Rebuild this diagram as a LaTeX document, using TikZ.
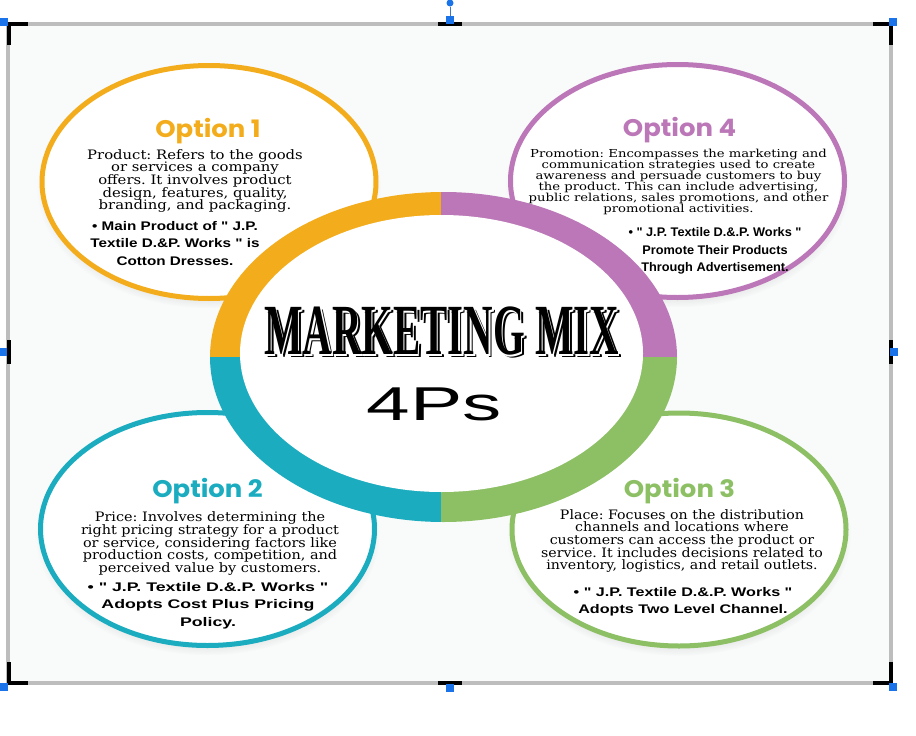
\documentclass[tikz,border=0pt]{standalone}
\usepackage{fontspec}
\usepackage{graphicx}
\usetikzlibrary{shapes.geometric,shadows}
\newfontfamily\titlefont{Poppins}
\newfontfamily\bodyfont{DejaVu Serif}
\newfontfamily\notefont{Liberation Sans}
\newfontfamily\mixfont{Liberation Serif}
\definecolor{optorange}{HTML}{F3AD1C}
\definecolor{optpurple}{HTML}{BB77B7}
\definecolor{optteal}{HTML}{1BACC0}
\definecolor{optgreen}{HTML}{8DC065}
\definecolor{handleblue}{HTML}{1A73E8}
\definecolor{framegray}{HTML}{BDBDBD}
\definecolor{paper}{HTML}{F9FAFA}
\pgfdeclareradialshading{softfill}{\pgfpoint{0bp}{0bp}}{color(0bp)=(white); color(39bp)=(white); color(50bp)=(black!9)}
\newcommand{\bodysize}{\bodyfont\fontsize{13}{12.6}\selectfont}
\newcommand{\promosize}{\bodyfont\fontsize{11}{11}\selectfont}
\newcommand{\notesize}{\notefont\bfseries\fontsize{12.5}{17.5}\selectfont}
\newcommand{\para}[3]{\scalebox{#1}[1]{\parbox{330pt}{\centering\frenchspacing#2\lineskiplimit=-50pt\relax #3}}}
% black letters, a white rim and a black shadow
\newcommand{\shadowed}[1]{\rlap{\kern5.3pt\raisebox{-3pt}{#1}}\rlap{\kern2.6pt\raisebox{-1.5pt}{\color{white}#1}}#1}

\begin{document}
\begin{tikzpicture}[x=1pt,y=-1pt,
	optring/.style={ellipse, draw=#1, line width=5pt, shade, shading=softfill,
		minimum width=334pt, minimum height=233pt, inner sep=0pt,
		circular drop shadow={shadow xshift=0pt, shadow yshift=-6pt, shadow scale=1.03, opacity=.25}},
	opthead/.style={font=\titlefont\bfseries\fontsize{24}{24}\selectfont, text=#1, inner sep=0pt, anchor=base},
	txt/.style={inner sep=0pt},
	mix/.style={inner sep=0pt, font=\mixfont\bfseries\fontsize{72}{72}\selectfont},
	handle/.style={rectangle, fill=handleblue, minimum size=8pt, inner sep=0pt},
	bracket/.style={line width=3.5pt, black}]
	\useasboundingbox[fill=white] (0,0) rectangle (916,736);
	\fill[paper] (8,24) rectangle (891,683);
	% the four options
		\node[optring=optorange] (opt1) at (209,182) {};
		\node[optring=optpurple] (opt4) at (677.5,181) {};
		\node[optring=optteal] (opt2) at (207.5,529) {};
		\node[optring=optgreen] (opt3) at (679,529.5) {};
	% central ring
	\foreach \col/\cx/\cy in {optorange/180/170, optpurple/700/170, optteal/180/540, optgreen/700/540} {
		\begin{scope}
			\clip (441,357) rectangle (\cx,\cy);
			\fill[\col] (443.5,357) ellipse [x radius=233.5, y radius=165];
		\end{scope}
	}
	\shade[shading=softfill] (441.5,353.5) ellipse [x radius=201.5, y radius=138.5];
	% texts
		\node[opthead=optorange] (t1) at (208,137) {\scalebox{1.08}[1]{Option 1}};
		\node[txt] (b1) at (195,181) {\para{1.14}{\bodysize}{Product: Refers to the goods\\or services a company\\offers. It involves product\\design, features, quality,\\branding, and packaging.}};
		\node[txt] (n1) at (175,243.5) {\para{1.22}{\notesize}{• Main Product of " J.P.\\Textile D.\&P. Works " is\\Cotton Dresses.}};
		\node[opthead=optpurple] (t4) at (679.5,136) {\scalebox{1.08}[1]{Option 4}};
		\node[txt] (b4) at (678.5,182) {\para{1.2}{\promosize}{Promotion: Encompasses the marketing and\\communication strategies used to create\\awareness and persuade customers to buy\\the product. This can include advertising,\\public relations, sales promotions, and other\\promotional activities.}};
		\node[txt] (n4) at (715,251) {\para{1.02}{\notesize}{• " J.P. Textile D.\&.P. Works "\\Promote Their Products\\Through Advertisement.}};
		\node[opthead=optteal] (t2) at (207.5,497) {\scalebox{1.08}[1]{Option 2}};
		\node[txt] (b2) at (210,543.5) {\para{1.11}{\bodysize}{Price: Involves determining the\\right pricing strategy for a product\\or service, considering factors like\\production costs, competition, and\\perceived value by customers.}};
		\node[txt] (n2) at (208,605.5) {\para{1.42}{\notesize}{• " J.P. Textile D.\&.P. Works "\\Adopts Cost Plus Pricing\\Policy.}};
		\node[opthead=optgreen] (t3) at (679.5,497) {\scalebox{1.08}[1]{Option 3}};
		\node[txt] (b3) at (682,541) {\para{1.09}{\bodysize}{Place: Focuses on the distribution\\channels and locations where\\customers can access the product or\\service. It includes decisions related to\\inventory, logistics, and retail outlets.}};
		\node[txt] (n3) at (683,602) {\para{1.29}{\notesize}{• " J.P. Textile D.\&.P. Works "\\Adopts Two Level Channel.}};
	% title in the middle
		\node[mix] (mix) at (441.5,333) {\scalebox{0.567}[1]{\shadowed{MARKETING MIX}}};
		\node[txt, font=\notefont\fontsize{47.5}{47.5}\selectfont] (ps) at (434.5,404) {\scalebox{1.65}[1]{4Ps}};
	% frame of the selected picture
	\draw[framegray, line width=3.5pt] (8,24) rectangle (891,683);
	\draw[bracket] (9,45) -- (9,24) -- (28,24);
	\draw[bracket] (438,24) -- (462,24);
	\draw[bracket] (873,24) -- (891,24) -- (891,45);
	\draw[bracket] (9,340) -- (9,364);
	\draw[bracket] (891,340) -- (891,364);
	\draw[bracket] (9,662) -- (9,683) -- (28,683);
	\draw[bracket] (438,683) -- (462,683);
	\draw[bracket] (873,683) -- (891,683) -- (891,662);
		\node[handle] (htl) at (3.5,21.5) {};
		\node[handle] (htm) at (450,20) {};
		\node[handle] (htr) at (893,21.5) {};
		\node[handle] (hml) at (3,352) {};
		\node[handle] (hmr) at (894,352) {};
		\node[handle] (hbl) at (3.5,687) {};
		\node[handle] (hbm) at (450,688) {};
		\node[handle] (hbr) at (893,687) {};
		\node[circle, fill=handleblue, minimum size=7pt, inner sep=0pt] (hrot) at (450,3) {};
	\draw[handleblue!60!gray, line width=0.8pt] (hrot) -- (htm);
\end{tikzpicture}
\end{document}
